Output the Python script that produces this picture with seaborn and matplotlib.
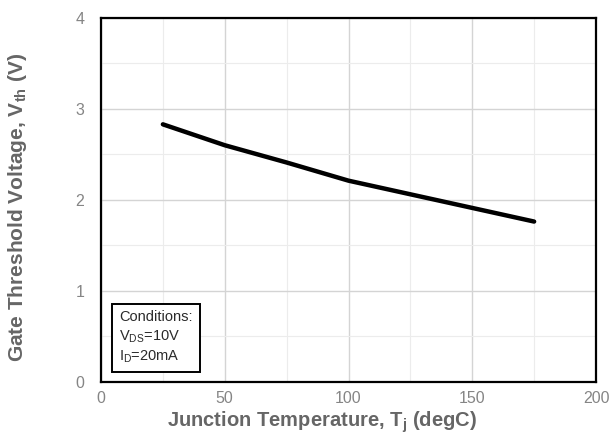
import matplotlib
matplotlib.use("Agg")
import matplotlib.pyplot as plt
import seaborn as sns
import pandas as pd
from matplotlib.ticker import MultipleLocator

temps = [25, 50, 75, 100, 125, 150, 175]
vth = [2.83, 2.60, 2.41, 2.21, 2.06, 1.91, 1.76]
x_ticks = [0, 50, 100, 150, 200]
y_ticks = [0, 1, 2, 3, 4]

df = pd.DataFrame({"Tj": temps, "Vth": vth})

sns.set_theme(style="white")
plt.rcParams['font.family'] = ['Liberation Sans', 'DejaVu Sans']
plt.rcParams['mathtext.fontset'] = 'custom'
plt.rcParams['mathtext.rm'] = 'Liberation Sans'
plt.rcParams['mathtext.it'] = 'Liberation Sans'
plt.rcParams['mathtext.bf'] = 'Liberation Sans:bold'

fig = plt.figure(figsize=(6.09, 4.38), dpi=100)
ax = fig.add_axes([101/609, 1-381.5/438, (596-101)/609, (381.5-18)/438])

sns.lineplot(data=df, x="Tj", y="Vth", ax=ax, color="black", linewidth=3.2, zorder=3)

ax.set_xlim(0, 200)
ax.set_ylim(0, 4)
ax.set_xticks(x_ticks)
ax.set_yticks(y_ticks)
ax.xaxis.set_minor_locator(MultipleLocator(25))
ax.yaxis.set_minor_locator(MultipleLocator(0.5))
ax.grid(which="major", color="#d4d4d4", linewidth=1.0)
ax.grid(which="minor", color="#ececec", linewidth=0.8)
ax.set_axisbelow(True)
for s in ax.spines.values():
    s.set_color("black")
    s.set_linewidth(1.6)
ax.tick_params(axis="both", which="both", length=0, labelsize=11.5, labelcolor="#858585")
ax.tick_params(axis="x", pad=7)
ax.tick_params(axis="y", pad=12)
ax.set_xlabel("")
ax.set_ylabel("")

fig.text(322/609, 1-422/438, "Junction Temperature, T$_{\\mathregular{j}}$ (degC)",
         ha="center", va="center", fontsize=14.5, fontweight="bold", color="#666666")
fig.text(18/609, 1-207/438, "Gate Threshold Voltage, V$_{\\mathregular{th}}$ (V)",
         ha="center", va="center", rotation=90, fontsize=15, fontweight="bold", color="#666666")

ax.text(0.036, 0.045, "Conditions:\nV$_{\\mathregular{DS}}$=10V\nI$_{\\mathregular{D}}$=20mA",
        transform=ax.transAxes, ha="left", va="bottom", fontsize=10.5, color="#2a2a2a",
        linespacing=1.35,
        bbox=dict(boxstyle="square,pad=0.5", facecolor="white", edgecolor="black", linewidth=1.4),
        zorder=4)

fig.savefig("out.png", dpi=100)
